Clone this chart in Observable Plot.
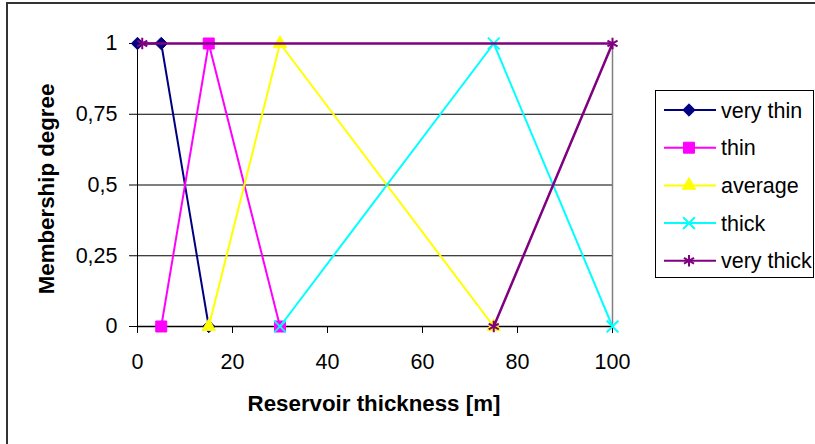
<!DOCTYPE html>
<html>
<head>
<meta charset="utf-8">
<script src="https://cdn.jsdelivr.net/npm/d3@7"></script>
<script src="https://cdn.jsdelivr.net/npm/@observablehq/plot@0.6"></script>
<style>
  html, body { margin: 0; padding: 0; background: #fff; }
  svg { display: block; }
  #chart svg text { font-size: 21.5px; font-family: 'Liberation Sans', Arial, sans-serif; }
  #chart svg text.title { font-size: 22.3px; font-weight: bold; }
</style>
</head>
<body>
<div id="chart"></div>
<script>
// ---- data ----
const seriesNames = ["very thin", "thin", "average", "thick", "very thick"];
const seriesColors = ["#000080", "#FF00FF", "#FFFF00", "#00FFFF", "#800080"];
const seriesSymbols = ["diamond2", "square", "triangle", "times", "asterisk"];

const veryThinX = [0, 5, 15];
const veryThinY = [1, 1, 0];
const thinX = [5, 15, 30];
const thinY = [0, 1, 0];
const averageX = [15, 30, 75];
const averageY = [0, 1, 0];
const thickX = [30, 75, 100];
const thickY = [0, 1, 0];
const veryThickX = [1, 100, 75];
const veryThickY = [1, 1, 0];

const xTicks = [0, 20, 40, 60, 80, 100];
const yTicks = [0, 0.25, 0.5, 0.75, 1];
const gridY = [0.25, 0.5, 0.75, 1];

const xTitle = "Reservoir thickness [m]";
const yTitle = "Membership degree";

// ---- build table ----
const seriesX = [veryThinX, thinX, averageX, thickX, veryThickX];
const seriesY = [veryThinY, thinY, averageY, thickY, veryThickY];
const rows = [];
seriesNames.forEach((name, i) => {
  seriesX[i].forEach((x, j) => rows.push({series: name, x, y: seriesY[i][j], idx: i}));
});

const FONT = "'Liberation Sans', Arial, sans-serif";
const symR = [5.6, 6.2, 5, 5.4, 5.5];
const marks = [
  Plot.ruleY(gridY, {stroke: "#000", strokeWidth: 1}),
  Plot.ruleX([100], {y1: 0, y2: 1, stroke: "#808080", strokeWidth: 1.5}),
  Plot.axisY({ticks: yTicks, tickSize: 8, tickPadding: 12, tickFormat: d => String(d).replace(".", ","), label: null, stroke: "#000"}),
  Plot.axisX({ticks: xTicks, tickSize: 7, tickPadding: 20, label: null, stroke: "#000"}),
  Plot.ruleX([0], {y1: 0, y2: 1, stroke: "#000", strokeWidth: 1}),
  Plot.ruleY([0], {stroke: "#000", strokeWidth: 1.5}),
  Plot.text([xTitle], {frameAnchor: "bottom", dy: 77, dx: -1, className: "title", textAnchor: "middle", lineAnchor: "middle"}),
  Plot.text([yTitle], {frameAnchor: "left", dx: -91, dy: 4, rotate: -90, className: "title", textAnchor: "middle", lineAnchor: "middle"})
];
seriesNames.forEach((name, i) => {
  const data = rows.filter(d => d.series === name);
  marks.push(Plot.line(data, {x: "x", y: "y", stroke: seriesColors[i], strokeWidth: i === 4 ? 2.5 : 2}));
  const filled = i < 3;
  marks.push(Plot.dot(data, {
    x: "x", y: "y", symbol: seriesSymbols[i], r: symR[i],
    fill: filled ? seriesColors[i] : "none",
    stroke: seriesColors[i], strokeWidth: filled ? 1 : 2
  }));
});

const svg = Plot.plot({
  width: 815,
  height: 444,
  marginLeft: 137,
  marginRight: 203,
  marginTop: 43,
  marginBottom: 118,
  x: {domain: [0, 100]},
  y: {domain: [0, 1]},
  style: {fontFamily: FONT, fontSize: "21px", color: "#000", background: "#fff", overflow: "visible"},
  marks
});

// Plot puts className on the mark group; tag the title texts
d3.select(svg).selectAll("g.title text").classed("title", true);

// outer chart frame and legend
const root = d3.select(svg);
root.insert("rect", ":first-child")
  .attr("x", 7).attr("y", 3).attr("width", 840).attr("height", 480)
  .attr("fill", "none").attr("stroke", "#333").attr("stroke-width", 2);

const lg = root.append("g").attr("text-anchor", "start");
lg.append("rect").attr("x", 655.5).attr("y", 90.5).attr("width", 158).attr("height", 187)
  .attr("fill", "#fff").attr("stroke", "#000").attr("stroke-width", 1);
const symMap = {diamond2: d3.symbolDiamond2, square: d3.symbolSquare, triangle: d3.symbolTriangle, times: d3.symbolTimes, asterisk: d3.symbolAsterisk};
seriesNames.forEach((name, i) => {
  const cy = 110 + i * 37.7;
  lg.append("line").attr("x1", 664).attr("x2", 716).attr("y1", cy).attr("y2", cy)
    .attr("stroke", seriesColors[i]).attr("stroke-width", 2);
  const filled = i < 3;
  lg.append("path")
    .attr("d", d3.symbol(symMap[seriesSymbols[i]], Math.PI * symR[i] * symR[i])())
    .attr("transform", `translate(689,${cy})`)
    .attr("fill", filled ? seriesColors[i] : "none")
    .attr("stroke", seriesColors[i]).attr("stroke-width", filled ? 1 : 2);
  lg.append("text").attr("x", 721).attr("y", cy).attr("dy", "0.35em").attr("text-anchor", "start").text(name);
});

document.getElementById("chart").appendChild(svg);
</script>
</body>
</html>
